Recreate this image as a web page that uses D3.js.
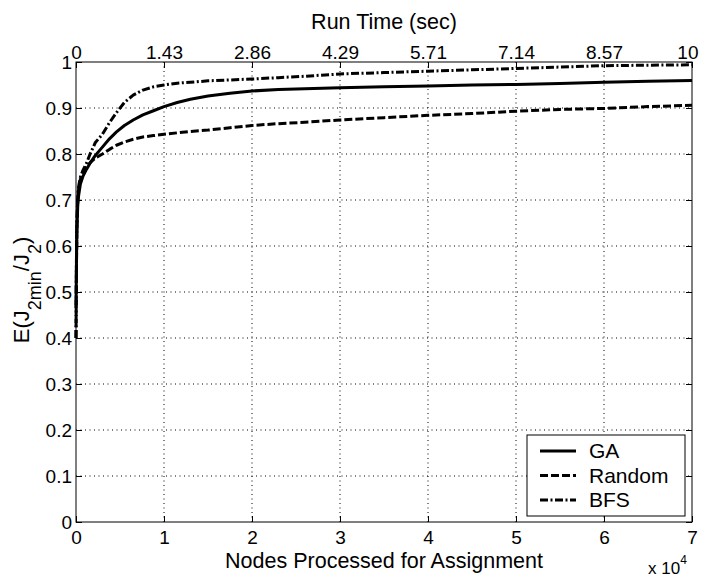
<!DOCTYPE html>
<html>
<head>
<meta charset="utf-8">
<script src="https://cdn.jsdelivr.net/npm/d3@7"></script>
<style>
  body { margin: 0; background: #fff; }
  svg { display: block; font-family: "Liberation Sans", Arial, Helvetica, sans-serif; }
</style>
</head>
<body>
<svg width="701" height="578"></svg>
<script>
// nodes processed (x 10^4) shared by all three runs
var nodes = [0, 0.005, 0.01, 0.02, 0.03, 0.05, 0.08, 0.12, 0.16, 0.22, 0.3, 0.38, 0.46, 0.55, 0.65,
  0.76, 0.88, 1.0, 1.15, 1.3, 1.5, 1.75, 2.0, 2.3, 2.6, 3.0, 3.5, 4.0, 4.5, 5.0, 5.5, 6.0, 6.5, 7.0];

var gaValues = [0.465, 0.56, 0.63, 0.69, 0.71, 0.735, 0.752, 0.767, 0.78, 0.797, 0.815, 0.833, 0.848,
  0.862, 0.874, 0.885, 0.894, 0.903, 0.912, 0.919, 0.926, 0.932, 0.937, 0.94, 0.942, 0.944, 0.946,
  0.948, 0.95, 0.951, 0.953, 0.956, 0.958, 0.96];

var randomValues = [0.40, 0.55, 0.64, 0.70, 0.725, 0.745, 0.76, 0.772, 0.781, 0.791, 0.80, 0.81, 0.819,
  0.826, 0.832, 0.837, 0.84, 0.843, 0.846, 0.849, 0.852, 0.857, 0.862, 0.866, 0.869, 0.874, 0.879,
  0.884, 0.888, 0.893, 0.897, 0.899, 0.903, 0.906];

var bfsValues = [0.40, 0.57, 0.65, 0.71, 0.73, 0.75, 0.765, 0.78, 0.80, 0.825, 0.843, 0.868, 0.89,
  0.912, 0.928, 0.939, 0.946, 0.95, 0.954, 0.956, 0.959, 0.961, 0.963, 0.966, 0.969, 0.974, 0.977,
  0.98, 0.983, 0.986, 0.989, 0.992, 0.993, 0.994];

var seriesNames = ["GA", "Random", "BFS"];
var xTicks = [0, 1, 2, 3, 4, 5, 6, 7];
var yTicks = [0, 0.1, 0.2, 0.3, 0.4, 0.5, 0.6, 0.7, 0.8, 0.9, 1];
var timeLabels = ["0", "1.43", "2.86", "4.29", "5.71", "7.14", "8.57", "10"];

var svg = d3.select("svg");

var x = d3.scaleLinear().domain([0, 7]).range([76, 692]);
var y = d3.scaleLinear().domain([0, 1]).range([522, 62]);

// line styles per series
var styles = {
  "GA":     { width: 3, dash: null },
  "Random": { width: 3, dash: "8,3" },
  "BFS":    { width: 3, dash: "8,2.5,2,2.5" }
};

// dotted grid
var grid = svg.append("g");
grid.selectAll(".vg").data(xTicks.slice(1, -1)).enter().append("line")
  .attr("x1", function(d) { return x(d); }).attr("x2", function(d) { return x(d); })
  .attr("y1", y(0)).attr("y2", y(1))
  .attr("stroke", "#000").attr("stroke-width", 1).attr("stroke-dasharray", "1,3.5");
grid.selectAll(".hg").data(yTicks.slice(1, -1)).enter().append("line")
  .attr("y1", function(d) { return y(d); }).attr("y2", function(d) { return y(d); })
  .attr("x1", x(0)).attr("x2", x(7))
  .attr("stroke", "#000").attr("stroke-width", 1).attr("stroke-dasharray", "1,3.5");

// axes, ticks inward like matlab
var bottomAxis = svg.append("g").attr("transform", "translate(0," + y(0) + ")")
  .call(d3.axisBottom(x).tickValues(xTicks).tickSizeInner(-6).tickSizeOuter(0).tickPadding(9)
    .tickFormat(d3.format("d")));
var topAxis = svg.append("g").attr("transform", "translate(0," + y(1) + ")")
  .call(d3.axisTop(x).tickValues(xTicks).tickSizeInner(-6).tickSizeOuter(0).tickPadding(3)
    .tickFormat(function(d, i) { return timeLabels[i]; }));
var leftAxis = svg.append("g").attr("transform", "translate(" + x(0) + ",0)")
  .call(d3.axisLeft(y).tickValues(yTicks).tickSizeInner(-6).tickSizeOuter(0).tickPadding(4)
    .tickFormat(function(d) { return d === 0 || d === 1 ? d3.format("d")(d) : d3.format(".1f")(d); }));
var rightAxis = svg.append("g").attr("transform", "translate(" + x(7) + ",0)")
  .call(d3.axisRight(y).tickValues(yTicks).tickSizeInner(-6).tickSizeOuter(0).tickFormat(""));

[bottomAxis, topAxis, leftAxis, rightAxis].forEach(function(a) {
  a.select(".domain").remove();
  a.selectAll("line").attr("stroke", "#000");
  a.selectAll("text").attr("fill", "#000").style("font-size", "19px")
    .style("font-family", "'Liberation Sans', Arial, sans-serif");
});
// last run time label would run off the page, pull it in
topAxis.selectAll("text").filter(function(d) { return d === 7; })
  .attr("text-anchor", "end").attr("x", 6);

// curves
var lineGen = d3.line()
  .x(function(d) { return x(d[0]); })
  .y(function(d) { return y(d[1]); });

var allValues = [gaValues, randomValues, bfsValues];
allValues.forEach(function(vals, i) {
  var name = seriesNames[i];
  svg.append("path")
    .datum(nodes.map(function(n, j) { return [n, vals[j]]; }))
    .attr("d", lineGen)
    .attr("fill", "none")
    .attr("stroke", "#000")
    .attr("stroke-width", styles[name].width)
    .attr("stroke-dasharray", styles[name].dash)
    .attr("stroke-linejoin", "round");
});

// box
svg.append("rect")
  .attr("x", x(0)).attr("y", y(1))
  .attr("width", x(7) - x(0)).attr("height", y(0) - y(1))
  .attr("fill", "none").attr("stroke", "#000").attr("stroke-width", 1);

// titles
svg.append("text").attr("x", (x(0) + x(7)) / 2).attr("y", 29)
  .attr("text-anchor", "middle").style("font-size", "21.5px").text("Run Time (sec)");
svg.append("text").attr("x", (x(0) + x(7)) / 2).attr("y", 568)
  .attr("text-anchor", "middle").style("font-size", "21.5px").text("Nodes Processed for Assignment");

var mult = svg.append("text").attr("x", 648).attr("y", 574).style("font-size", "17px");
mult.append("tspan").text("x 10");
mult.append("tspan").attr("dy", -10).style("font-size", "12px").text("4");

var ylab = svg.append("text")
  .attr("transform", "translate(29,290) rotate(-90)")
  .attr("text-anchor", "middle").style("font-size", "22px");
ylab.append("tspan").text("E(J");
ylab.append("tspan").attr("dy", 12).style("font-size", "18px").text("2min");
ylab.append("tspan").attr("dy", -12).text("/J");
ylab.append("tspan").attr("dy", 12).style("font-size", "18px").text("2");
ylab.append("tspan").attr("dy", -12).text(")");

// legend
var legend = svg.append("g");
legend.append("rect")
  .attr("x", 527).attr("y", 435).attr("width", 158).attr("height", 81)
  .attr("fill", "#fff").attr("stroke", "#000").attr("stroke-width", 1);
seriesNames.forEach(function(name, i) {
  var ly = 451 + i * 24.5;
  legend.append("line")
    .attr("x1", 540).attr("x2", 576).attr("y1", ly).attr("y2", ly)
    .attr("stroke", "#000").attr("stroke-width", styles[name].width)
    .attr("stroke-dasharray", styles[name].dash);
  legend.append("text").attr("x", 589).attr("y", ly + 7)
    .style("font-size", "21px").text(name);
});
</script>
</body>
</html>
